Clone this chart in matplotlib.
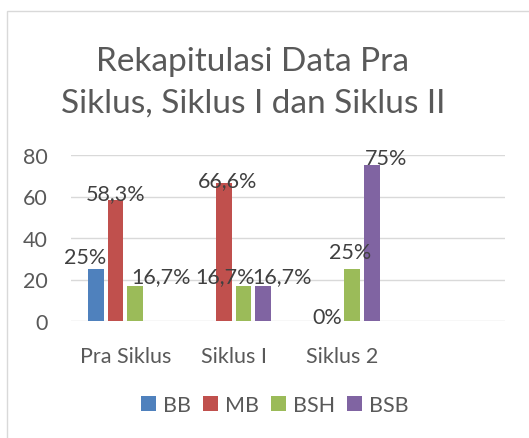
import matplotlib
matplotlib.use("Agg")
import matplotlib.pyplot as plt
import numpy as np
from matplotlib.patches import Rectangle

categories = ["Pra Siklus", "Siklus I", "Siklus 2", ""]
series_names = ["BB", "MB", "BSH", "BSB"]
bb = [25, 0, 0, np.nan]
mb = [58.3, 66.6, 0, np.nan]
bsh = [16.7, 16.7, 25, np.nan]
bsb = [0, 16.7, 75, np.nan]
bb_labels = ["25%", None, "0%", None]
mb_labels = ["58,3%", "66,6%", None, None]
bsh_labels = ["16,7%", "16,7%", "25%", None]
bsb_labels = [None, "16,7%", "75%", None]
y_ticks = [0, 20, 40, 60, 80]

colors = ["#4F81BD", "#C0504D", "#9BBB59", "#8064A2"]
# label offsets in pixels (dx, dy) relative to bar top-centre
offsets = [
    [(-11, 12), None, (14, 3.5), None],
    [(0, 7), (4, 3), None, None],
    [(26, 10), (-18, 10), (-2, 17), None],
    [None, (19, 10), (15, 7), None],
]

plt.rcParams["font.family"] = ["Lato", "DejaVu Sans"]
txt = "#595959"
fs = 15.5
W, H = 529, 439
fig = plt.figure(figsize=(W / 100, H / 100), dpi=100)

# chart frame
fig.patches.append(Rectangle((7 / W, -0.05), 1.2, (H - 12) / H + 0.05,
                             transform=fig.transFigure, fill=False,
                             edgecolor="#d9d9d9", linewidth=1.0))

ax = fig.add_axes([71 / W, (H - 322) / H, 434 / W, 166 / H])
x = np.arange(len(categories))
step = 0.18
width = 0.147
data = [bb, mb, bsh, bsb]
labels = [bb_labels, mb_labels, bsh_labels, bsb_labels]
for i, (vals, name, c) in enumerate(zip(data, series_names, colors)):
    xs = x + (i - 1.5) * step
    ax.bar(xs, vals, width=width, color=c, label=name, zorder=3)
    for j, (xv, v, lab) in enumerate(zip(xs, vals, labels[i])):
        if lab is None:
            continue
        dx, dy = offsets[i][j]
        ax.annotate(lab, (xv, v), xytext=(dx * 0.72, dy * 0.72),
                    textcoords="offset points", ha="center", va="center",
                    fontsize=fs, color="#404040", zorder=4)

ax.set_xlim(-0.5, 3.5)
ax.set_ylim(0, 80)
ax.set_yticks(y_ticks)
ax.set_xticks(x)
ax.set_xticklabels(categories)
ax.tick_params(axis="both", length=0, labelsize=fs, colors=txt)
ax.tick_params(axis="y", pad=16.5)
ax.tick_params(axis="x", pad=18)
ax.grid(axis="y", color="#d9d9d9", linewidth=1.0, zorder=0)
for s in ax.spines.values():
    s.set_visible(False)

fig.text(253 / W, 1 - 62 / H, "Rekapitulasi Data Pra", ha="center", va="center",
         fontsize=24, color=txt)
fig.text(253 / W, 1 - 104 / H, "Siklus, Siklus I dan Siklus II", ha="center",
         va="center", fontsize=24, color=txt)

leg = fig.legend(loc="center", bbox_to_anchor=(275 / W, 1 - 406 / H), ncol=4,
                 frameon=False, fontsize=fs, handlelength=0.7, handleheight=0.7,
                 handletextpad=0.33, columnspacing=0.55)
for t in leg.get_texts():
    t.set_color(txt)

fig.savefig("out.png", dpi=100)
